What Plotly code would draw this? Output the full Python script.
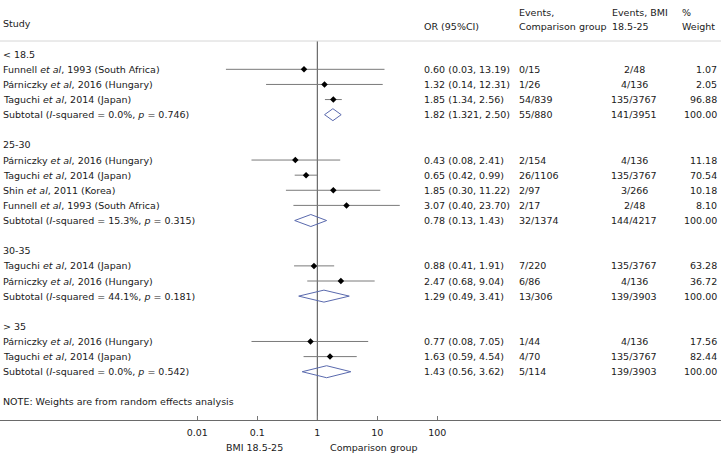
import math
import plotly.graph_objects as go

# ---------------- data ----------------
groups = ["< 18.5", "25-30", "30-35", "> 35"]

studies = [
    ["Funnell <i>et al</i>, 1993 (South Africa)", "Párniczky <i>et al</i>, 2016 (Hungary)", "Taguchi <i>et al</i>, 2014 (Japan)"],
    ["Párniczky <i>et al</i>, 2016 (Hungary)", "Taguchi <i>et al</i>, 2014 (Japan)", "Shin <i>et al</i>, 2011 (Korea)", "Funnell <i>et al</i>, 1993 (South Africa)"],
    ["Taguchi <i>et al</i>, 2014 (Japan)", "Párniczky <i>et al</i>, 2016 (Hungary)"],
    ["Párniczky <i>et al</i>, 2016 (Hungary)", "Taguchi <i>et al</i>, 2014 (Japan)"],
]
study_or = [[0.60, 1.32, 1.85], [0.43, 0.65, 1.85, 3.07], [0.88, 2.47], [0.77, 1.63]]
study_lo = [[0.03, 0.14, 1.34], [0.08, 0.42, 0.30, 0.40], [0.41, 0.68], [0.08, 0.59]]
study_hi = [[13.19, 12.31, 2.56], [2.41, 0.99, 11.22, 23.70], [1.91, 9.04], [7.05, 4.54]]
study_ev_comp = [["0/15", "1/26", "54/839"], ["2/154", "26/1106", "2/97", "2/17"], ["7/220", "6/86"], ["1/44", "4/70"]]
study_ev_bmi = [["2/48", "4/136", "135/3767"], ["4/136", "135/3767", "3/266", "2/48"], ["135/3767", "4/136"], ["4/136", "135/3767"]]
study_weight = [[1.07, 2.05, 96.88], [11.18, 70.54, 10.18, 8.10], [63.28, 36.72], [17.56, 82.44]]

sub_i2 = ["0.0%", "15.3%", "44.1%", "0.0%"]
sub_p = ["0.746", "0.315", "0.181", "0.542"]
sub_or = [1.82, 0.78, 1.29, 1.43]
sub_lo = [1.321, 0.42, 0.49, 0.56]          # diamond extents as drawn
sub_hi = [2.50, 1.43, 3.41, 3.62]
sub_or_text = ["1.82 (1.321, 2.50)", "0.78 (0.13, 1.43)", "1.29 (0.49, 3.41)", "1.43 (0.56, 3.62)"]
sub_ev_comp = ["55/880", "32/1374", "13/306", "5/114"]
sub_ev_bmi = ["141/3951", "144/4217", "139/3903", "139/3903"]
sub_weight = [100.00, 100.00, 100.00, 100.00]

tick_vals = [0.01, 0.1, 1, 10, 100]
tick_text = ["0.01", "0.1", "1", "10", "100"]
note = "NOTE: Weights are from random effects analysis"
left_label = "BMI 18.5-25"
right_label = "Comparison group"

# ---------------- layout constants ----------------
W, H = 721, 455
ROW0_PX, ROW_H = 54.2, 15.12
AXIS_PX = 420
FONT = "DejaVu Sans"
FS = 9.5
TXT = "#1a1a1a"

def px2row(p):
    return (p - ROW0_PX) / ROW_H

def xp(p):
    return p / W

COL_STUDY, COL_OR, COL_EVC, COL_EVB_C, COL_EVB_H, COL_W_R, COL_W_H = 3, 424, 519, 634, 612, 717, 682

ann = []
def add(text, x, row, anchor="left", size=FS):
    ann.append(dict(text=text, x=xp(x), y=row, xref="paper", yref="y", xanchor=anchor,
                    yanchor="middle", showarrow=False, borderpad=0, borderwidth=0,
                    font=dict(family=FONT, size=size, color=TXT)))

# headers
h1, h2 = px2row(12), px2row(26)
add("Study", COL_STUDY, px2row(23.5))
add("OR (95%CI)", COL_OR, h2)
add("Events,", COL_EVC, h1)
add("Comparison group", COL_EVC, h2)
add("Events, BMI", COL_EVB_H, h1)
add("18.5-25", COL_EVB_H, h2)
add("%", COL_W_H, h1)
add("Weight", COL_W_H, h2)

ci_x, ci_y, pt_x, pt_y = [], [], [], []
dia_x, dia_y = [], []
row = 0
for g in range(len(groups)):
    add(groups[g], COL_STUDY, row)
    row += 1
    for k in range(len(studies[g])):
        add(studies[g][k], COL_STUDY, row)
        add(f"{study_or[g][k]:.2f} ({study_lo[g][k]:.2f}, {study_hi[g][k]:.2f})", COL_OR, row)
        add(study_ev_comp[g][k], COL_EVC, row)
        add(study_ev_bmi[g][k], COL_EVB_C, row, "center")
        add(f"{study_weight[g][k]:.2f}", COL_W_R, row, "right")
        ci_x += [study_lo[g][k], study_hi[g][k], None]
        ci_y += [row, row, None]
        pt_x.append(study_or[g][k]); pt_y.append(row)
        row += 1
    add(f"Subtotal (<i>I</i>-squared = {sub_i2[g]}, <i>p</i> = {sub_p[g]})", COL_STUDY, row)
    add(sub_or_text[g], COL_OR, row)
    add(sub_ev_comp[g], COL_EVC, row)
    add(sub_ev_bmi[g], COL_EVB_C, row, "center")
    add(f"{sub_weight[g]:.2f}", COL_W_R, row, "right")
    hh = 6 / ROW_H
    dia_x += [sub_lo[g], sub_or[g], sub_hi[g], sub_or[g], sub_lo[g], None]
    dia_y += [row, row - hh, row, row + hh, row, None]
    row += 2
add(note, COL_STUDY, row)

top_row = px2row(41)
bot_row = px2row(AXIS_PX)

fig = go.Figure()
fig.add_trace(go.Scatter(x=[1, 1], y=[top_row, bot_row], mode="lines",
                         line=dict(color="#4a4a4a", width=1), hoverinfo="skip"))
fig.add_trace(go.Scatter(x=ci_x, y=ci_y, mode="lines",
                         line=dict(color="#7a7a7a", width=1), hoverinfo="skip"))
fig.add_trace(go.Scatter(x=pt_x, y=pt_y, mode="markers",
                         marker=dict(symbol="diamond", size=5, color="black"), hoverinfo="skip"))
fig.add_trace(go.Scatter(x=dia_x, y=dia_y, mode="lines",
                         line=dict(color="#5a6aae", width=1), hoverinfo="skip"))

# x axis titles (paper y so they are not hidden outside the y range)
for lab, v in [(left_label, 0.1), (right_label, 10)]:
    ann.append(dict(text=lab, x=math.log10(v), y=1 - 447 / H, xref="x", yref="paper",
                    xanchor="center", yanchor="middle", showarrow=False, xshift=-3,
                    font=dict(family=FONT, size=FS, color=TXT)))

fig.update_layout(
    width=W, height=H, margin=dict(l=0, r=0, t=0, b=0),
    paper_bgcolor="white", plot_bgcolor="white", showlegend=False,
    font=dict(family=FONT, size=FS, color=TXT),
    annotations=ann,
    shapes=[dict(type="line", xref="paper", yref="y", x0=0, x1=1, y0=top_row, y1=top_row,
                 line=dict(color="#d6d6d6", width=1))],
    xaxis=dict(type="log", domain=[0, 1],
               range=[-317.3 / 60, (W - 317.3) / 60],
               tickmode="array", tickvals=tick_vals, ticktext=tick_text,
               ticks="inside", ticklen=4, tickcolor="#777777",
               showline=True, linecolor="#6a6a6a", linewidth=1,
               showgrid=False, zeroline=False, ticklabelstandoff=4,
               tickfont=dict(family=FONT, size=FS, color=TXT)),
    yaxis=dict(domain=[1 - AXIS_PX / H, 1], range=[bot_row, px2row(0)],
               showgrid=False, zeroline=False, showticklabels=False, ticks=""),
)
fig.write_html("out.html", config={"displayModeBar": False},
               post_script="document.body.style.margin='0px';document.body.style.overflow='hidden';")
